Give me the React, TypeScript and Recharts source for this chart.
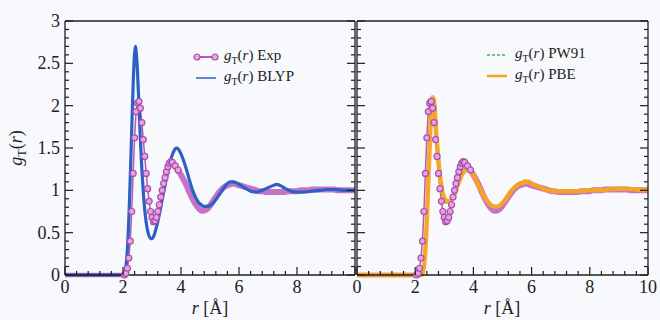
import { LineChart, Line, XAxis, YAxis } from "recharts";

const FONT = '"Liberation Serif", "Times New Roman", Times, serif';
const AXIS = "#1e1e1e";
const EXP = "#b45ab4";
const EXP_BAND = "#bd5cbd";
const BLUE = "#2d5fc4";
const GREEN = "#3cb043";
const ORANGE = "#f8a423";

// experimental g_T(r)
const expR = [
  0, 0.1, 0.2, 0.3, 0.4, 0.5, 0.6, 0.7, 0.8, 0.9, 1.0, 1.1, 1.2, 1.3, 1.4, 1.5, 1.6, 1.7, 1.8, 1.9, 2.0,
  2.05, 2.1, 2.15, 2.2, 2.25, 2.3, 2.35, 2.4, 2.45, 2.5, 2.55, 2.6, 2.65, 2.7, 2.75, 2.8, 2.85, 2.9, 2.95,
  3.0, 3.05, 3.1, 3.15, 3.2, 3.25, 3.3, 3.35, 3.4, 3.45, 3.5, 3.55, 3.6, 3.65,
  3.7, 3.8, 3.9, 4.0, 4.1, 4.2, 4.3, 4.4, 4.5, 4.6, 4.7, 4.8, 4.9, 5.0, 5.1, 5.2, 5.3, 5.4, 5.5, 5.6, 5.7,
  5.8, 5.9, 6.0, 6.1, 6.2, 6.3, 6.4, 6.5, 6.6, 6.7, 6.8, 6.9, 7.0, 7.1, 7.2, 7.3, 7.4, 7.5, 7.6, 7.7, 7.8,
  7.9, 8.0, 8.1, 8.2, 8.3, 8.4, 8.5, 8.6, 8.7, 8.8, 8.9, 9.0, 9.1, 9.2, 9.3, 9.4, 9.5, 9.6, 9.7, 9.8, 9.9, 10.0,
];
const expG = [
  0, 0, 0, 0, 0, 0, 0, 0, 0, 0, 0, 0, 0, 0, 0, 0, 0, 0, 0, 0, 0,
  0.0, 0.02, 0.08, 0.2, 0.4, 0.75, 1.2, 1.62, 1.93, 2.03, 2.05, 1.97, 1.8, 1.6, 1.4, 1.2, 1.02, 0.87, 0.75,
  0.68, 0.63, 0.64, 0.68, 0.75, 0.83, 0.92, 1.0, 1.08, 1.15, 1.22, 1.28, 1.32, 1.34,
  1.33, 1.29, 1.24, 1.18, 1.12, 1.05, 0.97, 0.9, 0.84, 0.79, 0.76, 0.76, 0.78, 0.82, 0.87, 0.92, 0.97, 1.01, 1.04, 1.06, 1.07,
  1.08, 1.07, 1.06, 1.05, 1.04, 1.03, 1.02, 1.01, 1.0, 0.99, 0.99, 0.98, 0.98, 0.98, 0.98, 0.98, 0.98, 0.98, 0.98, 0.99, 0.99,
  0.99, 0.99, 1.0, 1.0, 1.0, 1.0, 1.01, 1.01, 1.01, 1.01, 1.01, 1.01, 1.01, 1.01, 1.01, 1.0, 1.0, 1.0, 1.0, 1.0, 1.0, 1.0,
];

// BLYP
const blypR = [
  0, 2.0, 2.05, 2.1, 2.15, 2.2, 2.25, 2.3, 2.35, 2.4, 2.43, 2.45, 2.5, 2.55, 2.6, 2.65, 2.7, 2.75, 2.8, 2.85,
  2.9, 2.95, 3.0, 3.05, 3.1, 3.2, 3.3, 3.4, 3.5, 3.6, 3.7, 3.8, 3.85, 3.9, 4.0, 4.1, 4.2, 4.3, 4.4, 4.5,
  4.6, 4.7, 4.8, 4.9, 5.0, 5.1, 5.2, 5.3, 5.4, 5.5, 5.6, 5.7, 5.8, 5.9, 6.0, 6.2, 6.4, 6.6, 6.8, 7.0,
  7.2, 7.3, 7.4, 7.6, 7.8, 8.0, 8.2, 8.5, 8.8, 9.0, 9.3, 9.6, 10.0,
];
const blypG = [
  0, 0, 0.02, 0.1, 0.3, 0.65, 1.15, 1.7, 2.25, 2.62, 2.7, 2.65, 2.4, 2.0, 1.6, 1.25, 0.98, 0.77, 0.62, 0.52,
  0.46, 0.43, 0.43, 0.45, 0.5, 0.63, 0.8, 0.98, 1.15, 1.3, 1.42, 1.49, 1.5, 1.49, 1.43, 1.34, 1.23, 1.11, 1.0, 0.92,
  0.86, 0.83, 0.81, 0.81, 0.82, 0.85, 0.89, 0.94, 0.99, 1.04, 1.08, 1.1, 1.1, 1.09, 1.07, 1.03, 0.99, 0.98, 1.0, 1.03,
  1.06, 1.07, 1.06, 1.02, 0.99, 0.98, 0.98, 0.99, 1.0, 1.01, 1.01, 1.0, 1.0,
];

// PW91 and PBE share the r grid
const dftR = [
  0, 2.2, 2.25, 2.3, 2.35, 2.4, 2.45, 2.5, 2.55, 2.6, 2.65, 2.7, 2.75, 2.8, 2.85, 2.9, 2.95, 3.0, 3.1, 3.2,
  3.3, 3.4, 3.5, 3.6, 3.7, 3.8, 3.9, 4.0, 4.1, 4.2, 4.3, 4.4, 4.5, 4.6, 4.7, 4.8, 4.9, 5.0, 5.1, 5.2,
  5.3, 5.4, 5.5, 5.6, 5.7, 5.8, 5.9, 6.0, 6.2, 6.4, 6.6, 6.8, 7.0, 7.3, 7.6, 8.0, 8.3, 8.6, 9.0, 9.3, 9.6, 10.0,
];
const pw91G = [
  0, 0, 0.03, 0.13, 0.36, 0.72, 1.18, 1.62, 1.98, 2.08, 2.0, 1.76, 1.5, 1.3, 1.13, 1.01, 0.93, 0.88, 0.85, 0.86,
  0.92, 1.01, 1.11, 1.2, 1.25, 1.27, 1.25, 1.19, 1.12, 1.04, 0.97, 0.9, 0.85, 0.82, 0.8, 0.8, 0.82, 0.85, 0.89, 0.94,
  0.99, 1.04, 1.07, 1.09, 1.11, 1.12, 1.11, 1.09, 1.05, 1.02, 1.0, 0.99, 0.99, 0.99, 0.99, 1.0, 1.0, 1.01, 1.02, 1.02, 1.01, 1.0,
];
const pbeG = [
  0, 0, 0.02, 0.1, 0.3, 0.65, 1.1, 1.55, 1.95, 2.1, 2.05, 1.8, 1.55, 1.35, 1.18, 1.05, 0.96, 0.91, 0.87, 0.87,
  0.92, 1.0, 1.1, 1.18, 1.23, 1.25, 1.23, 1.18, 1.11, 1.04, 0.97, 0.91, 0.86, 0.83, 0.81, 0.81, 0.82, 0.85, 0.89, 0.94,
  0.99, 1.03, 1.06, 1.08, 1.09, 1.1, 1.1, 1.08, 1.05, 1.02, 1.0, 0.99, 0.99, 0.99, 0.99, 1.0, 1.0, 1.01, 1.02, 1.02, 1.01, 1.0,
];

const xTicks = Array.from({ length: 26 }, (_, i) => +(i * 0.4).toFixed(1));
const yTicks = Array.from({ length: 31 }, (_, i) => +(i * 0.1).toFixed(1));
const majorX = (v: number) => Math.abs(v / 2 - Math.round(v / 2)) < 1e-6;
const majorY = (v: number) => Math.abs(v * 2 - Math.round(v * 2)) < 1e-6;

const rows = (r: number[], g: number[]) => r.map((v, i) => ({ r: v, g: g[i] }));
const expData = rows(expR, expG);
// dense points merge into a band; markers only stand out around the first two shells
const expLow = expData.filter((d) => d.r <= 2.05);
const expPeaks = expData.filter((d) => d.r >= 2.05 && d.r <= 3.9);
const expTail = expData.filter((d) => d.r >= 3.8);
const blypData = rows(blypR, blypG);
const pw91Data = rows(dftR, pw91G);
const pbeData = rows(dftR, pbeG);

const axisLine = { stroke: AXIS, strokeWidth: 1.3 };
const tickText = { fontFamily: FONT, fontSize: 18, fill: "#222" };

function XTick(props: any) {
  const { x, y, payload, top, hideLast } = props;
  const v = payload.value;
  const big = majorX(v);
  const len = big ? 8 : 4;
  const showLabel = !top && big && !(hideLast && v === 10);
  return (
    <g>
      <line x1={x} x2={x} y1={y} y2={top ? y + len : y - len} stroke={AXIS} strokeWidth={1.2} />
      {showLabel && (
        <text x={x} y={y + 18} textAnchor="middle" {...tickText}>
          {v}
        </text>
      )}
    </g>
  );
}

function YTick(props: any) {
  const { x, y, payload, right, showLabel } = props;
  const v = payload.value;
  const big = majorY(v);
  const len = big ? 8 : 4;
  return (
    <g>
      <line x1={x} x2={right ? x - len : x + len} y1={y} y2={y} stroke={AXIS} strokeWidth={1.2} />
      {showLabel && big && (
        <text x={x - 5} y={y + 6} textAnchor="end" {...tickText}>
          {v}
        </text>
      )}
    </g>
  );
}

function axes(side: "left" | "right") {
  const isLeft = side === "left";
  return [
    <XAxis
      key="xb"
      dataKey="r"
      type="number"
      domain={[0, 10]}
      ticks={xTicks}
      interval={0}
      height={45}
      tickSize={0}
      tickMargin={0}
      tickLine={false}
      axisLine={axisLine}
      tick={(p: any) => <XTick {...p} hideLast={isLeft} />}
    />,
    <XAxis
      key="xt"
      xAxisId="top"
      orientation="top"
      type="number"
      domain={[0, 10]}
      allowDataOverflow
      ticks={xTicks}
      interval={0}
      height={21}
      tickSize={0}
      tickMargin={0}
      tickLine={false}
      axisLine={axisLine}
      tick={(p: any) => <XTick {...p} top />}
    />,
    <YAxis
      key="yl"
      type="number"
      domain={[0, 3]}
      ticks={yTicks}
      interval={0}
      width={isLeft ? 40 : 7}
      tickSize={0}
      tickMargin={0}
      tickLine={false}
      axisLine={axisLine}
      tick={(p: any) => <YTick {...p} showLabel={isLeft} />}
    />,
    <YAxis
      key="yr"
      yAxisId="right"
      orientation="right"
      type="number"
      domain={[0, 3]}
      allowDataOverflow
      ticks={yTicks}
      interval={0}
      width={isLeft ? 5 : 12}
      tickSize={0}
      tickMargin={0}
      tickLine={false}
      axisLine={axisLine}
      tick={(p: any) => <YTick {...p} right />}
    />,
  ];
}

const expDot = { r: 3, fill: "#dfa6df", stroke: "#ad4cad", strokeWidth: 1.2 };

function expLines(prefix: string) {
  return [
    <Line
      key={prefix + "low"}
      data={expLow}
      dataKey="g"
      type="linear"
      stroke={EXP_BAND}
      strokeWidth={4.5}
      strokeOpacity={0.85}
      dot={false}
      isAnimationActive={false}
    />,
    <Line
      key={prefix + "tail"}
      data={expTail}
      dataKey="g"
      type="monotone"
      stroke={EXP_BAND}
      strokeWidth={6}
      strokeOpacity={0.85}
      dot={false}
      isAnimationActive={false}
    />,
    <Line
      key={prefix + "peaks"}
      data={expPeaks}
      dataKey="g"
      type="linear"
      stroke={EXP}
      strokeWidth={1.5}
      dot={expDot}
      isAnimationActive={false}
    />,
  ];
}

function GLabel({ name }: { name: string }) {
  return (
    <span>
      <i>g</i>
      <span style={{ fontSize: 10, verticalAlign: "-0.35em" }}>T</span>(<i>r</i>) {name}
    </span>
  );
}

type LegendItem = { name: string; color: string; marker?: boolean; dash?: boolean; width?: number };
const legendLeft: LegendItem[] = [
  { name: "Exp", color: EXP, marker: true, width: 2 },
  { name: "BLYP", color: BLUE, width: 1.5 },
];
const legendRight: LegendItem[] = [
  { name: "PW91", color: GREEN, dash: true, width: 1.5 },
  { name: "PBE", color: ORANGE, width: 2.5 },
];

function Legend({ items, left, top }: { items: LegendItem[]; left: number; top: number }) {
  return (
    <div style={{ position: "absolute", left, top, fontFamily: FONT, fontSize: 15, color: "#222" }}>
      {items.map((it) => (
        <div key={it.name} style={{ display: "flex", alignItems: "center", height: 21 }}>
          <svg width={26} height={10} style={{ marginRight: 5 }}>
            <line
              x1={3}
              x2={23}
              y1={5}
              y2={5}
              stroke={it.color}
              strokeWidth={it.width}
              strokeDasharray={it.dash ? "3 2" : undefined}
            />
            {it.marker && (
              <>
                <circle cx={4} cy={5} r={3} fill="#e2aee2" stroke="#ad4cad" strokeWidth={1.2} />
                <circle cx={22} cy={5} r={3} fill="#e2aee2" stroke="#ad4cad" strokeWidth={1.2} />
              </>
            )}
          </svg>
          <GLabel name={it.name} />
        </div>
      ))}
    </div>
  );
}

export default function App() {
  return (
    <div
      style={{
        position: "absolute",
        left: 0,
        top: 0,
        width: 660,
        height: 320,
        background: "#f8f9fc",
        overflow: "hidden",
      }}
    >
      <div style={{ position: "absolute", left: 0, top: 0 }}>
        <LineChart width={360} height={320} margin={{ top: 0, right: 0, bottom: 0, left: 25 }}>
          {axes("left")}
          {expLines("l")}
          <Line
            data={blypData}
            dataKey="g"
            type="monotone"
            stroke={BLUE}
            strokeWidth={3.2}
            dot={false}
            isAnimationActive={false}
          />
        </LineChart>
      </div>
      <div style={{ position: "absolute", left: 350, top: 0 }}>
        <LineChart width={310} height={320} margin={{ top: 0, right: 0, bottom: 0, left: 0 }}>
          {axes("right")}
          {expLines("r")}
          <Line
            data={pw91Data}
            dataKey="g"
            type="monotone"
            stroke={GREEN}
            strokeWidth={1.6}
            strokeDasharray="3 2"
            dot={false}
            isAnimationActive={false}
          />
          <Line
            data={pbeData}
            dataKey="g"
            type="monotone"
            stroke={ORANGE}
            strokeWidth={4.5}
            strokeOpacity={0.95}
            dot={false}
            isAnimationActive={false}
          />
        </LineChart>
      </div>
      <svg width={660} height={320} style={{ position: "absolute", left: 0, top: 0, pointerEvents: "none" }}>
        <text x={22} y={148} textAnchor="middle" transform="rotate(-90, 22, 148)" fontFamily={FONT} fontSize={18} fill="#222">
          <tspan fontStyle="italic">g</tspan>
          <tspan fontSize={12} dy={4}>T</tspan>
          <tspan dy={-4}>(</tspan>
          <tspan fontStyle="italic">r</tspan>
          <tspan>)</tspan>
        </text>
        <text x={210} y={314} textAnchor="middle" fontFamily={FONT} fontSize={18} fill="#222">
          <tspan fontStyle="italic">r</tspan> [Å]
        </text>
        <text x={502} y={314} textAnchor="middle" fontFamily={FONT} fontSize={18} fill="#222">
          <tspan fontStyle="italic">r</tspan> [Å]
        </text>
      </svg>
      <Legend items={legendLeft} left={193} top={46} />
      <Legend items={legendRight} left={484} top={44} />
    </div>
  );
}
